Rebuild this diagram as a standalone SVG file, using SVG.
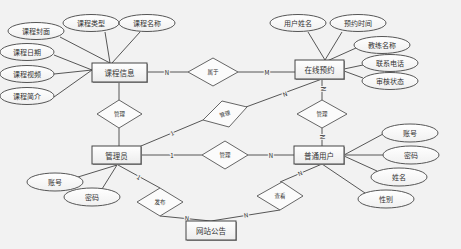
<svg xmlns="http://www.w3.org/2000/svg" width="461" height="249" viewBox="0 0 461 249">
<defs>
<linearGradient id="boxg" x1="0" y1="0" x2="0" y2="1"><stop offset="0" stop-color="#ffffff"/><stop offset="1" stop-color="#ececec"/></linearGradient>
<linearGradient id="elg" x1="0" y1="0" x2="0" y2="1"><stop offset="0" stop-color="#ffffff"/><stop offset="1" stop-color="#f0f0f0"/></linearGradient>
</defs>
<style>
text{font-family:"Noto Sans CJK SC","Liberation Sans",sans-serif;fill:#333;text-anchor:middle;dominant-baseline:central}
.ent rect.b{fill:url(#boxg);stroke:#444;stroke-width:1}
.ent rect.s{fill:#999}
.ent text{font-size:7.5px}
.att ellipse{fill:url(#elg);stroke:#444;stroke-width:0.9}
.att text{font-size:7px}
.rel polygon{fill:#fbfbfb;stroke:#555;stroke-width:0.9}
.rel text{font-size:5.5px}
#connectors line{stroke:#444;stroke-width:0.9}
.card{font-size:6px;fill:#222;stroke:#f2f2f2;stroke-width:2.5;paint-order:stroke}
</style>
<rect width="461" height="249" fill="#f2f2f2"/>
<g id="connectors">
<line x1="60" y1="37" x2="110" y2="63"/>
<line x1="105" y1="32" x2="110" y2="63"/>
<line x1="140" y1="32" x2="112" y2="63"/>
<line x1="54" y1="55" x2="92" y2="70"/>
<line x1="54" y1="74" x2="92" y2="70"/>
<line x1="54" y1="97" x2="92" y2="70"/>
<line x1="147" y1="72" x2="188" y2="72"/>
<line x1="238" y1="72" x2="295" y2="72"/>
<line x1="308" y1="32" x2="325" y2="60"/>
<line x1="342" y1="32" x2="325" y2="60"/>
<line x1="356" y1="48" x2="327" y2="61"/>
<line x1="363" y1="65" x2="344" y2="69"/>
<line x1="363" y1="78" x2="344" y2="71"/>
<line x1="322" y1="79" x2="322" y2="100"/>
<line x1="322" y1="128" x2="322" y2="146"/>
<line x1="322" y1="79" x2="246" y2="107"/>
<line x1="203" y1="120" x2="141" y2="146"/>
<line x1="119" y1="82" x2="119" y2="100"/>
<line x1="119" y1="128" x2="119" y2="146"/>
<line x1="141" y1="155" x2="202" y2="155"/>
<line x1="248" y1="155" x2="294" y2="155"/>
<line x1="78" y1="177" x2="117" y2="165"/>
<line x1="102" y1="189" x2="117" y2="165"/>
<line x1="118" y1="165" x2="160" y2="188"/>
<line x1="160" y1="216" x2="211" y2="221"/>
<line x1="322" y1="164" x2="280" y2="182"/>
<line x1="280" y1="210" x2="211" y2="221"/>
<line x1="383" y1="134" x2="344" y2="155"/>
<line x1="383" y1="155" x2="344" y2="155"/>
<line x1="377" y1="171" x2="344" y2="156"/>
<line x1="365" y1="193" x2="322" y2="164"/>
<text class="card" x="167" y="72">N</text>
<text class="card" x="267" y="72">M</text>
<text class="card" x="285" y="94" transform="rotate(-20 285 94)">N</text>
<text class="card" x="323" y="89" transform="rotate(90 323 89)">N</text>
<text class="card" x="322" y="137" transform="rotate(90 322 137)">N</text>
<text class="card" x="172" y="133" transform="rotate(-23 172 133)">1</text>
<text class="card" x="172" y="155">1</text>
<text class="card" x="271" y="155">N</text>
<text class="card" x="139" y="177" transform="rotate(29 139 177)">1</text>
<text class="card" x="187" y="218" transform="rotate(6 187 218)">N</text>
<text class="card" x="300" y="173" transform="rotate(-23 300 173)">N</text>
<text class="card" x="246" y="215" transform="rotate(-9 246 215)">N</text>
</g>
<g id="e-course" class="ent"><rect class="s" x="93" y="64" width="55" height="19"/><rect class="b" x="92" y="63" width="55" height="19"/><text x="119.5" y="72.5">课程信息</text></g>
<g id="e-booking" class="ent"><rect class="s" x="296" y="61" width="49" height="19"/><rect class="b" x="295" y="60" width="49" height="19"/><text x="319.5" y="69.5">在线预约</text></g>
<g id="e-admin" class="ent"><rect class="s" x="93" y="147" width="49" height="18"/><rect class="b" x="92" y="146" width="49" height="18"/><text x="116.5" y="155">管理员</text></g>
<g id="e-user" class="ent"><rect class="s" x="295" y="147" width="50" height="18"/><rect class="b" x="294" y="146" width="50" height="18"/><text x="319" y="155">普通用户</text></g>
<g id="e-notice" class="ent"><rect class="s" x="187" y="222" width="50" height="19"/><rect class="b" x="186" y="221" width="50" height="19"/><text x="211" y="230.5">网站公告</text></g>
<g id="a-cover" class="att"><ellipse cx="36" cy="31" rx="28" ry="8.5"/><text x="36" y="31">课程封面</text></g>
<g id="a-type" class="att"><ellipse cx="91" cy="23" rx="28" ry="8.5"/><text x="91" y="23">课程类型</text></g>
<g id="a-name" class="att"><ellipse cx="147" cy="23" rx="28" ry="8.5"/><text x="147" y="23">课程名称</text></g>
<g id="a-date" class="att"><ellipse cx="27" cy="52" rx="27" ry="8.5"/><text x="27" y="52">课程日期</text></g>
<g id="a-video" class="att"><ellipse cx="27" cy="74" rx="27" ry="8.5"/><text x="27" y="74">课程视频</text></g>
<g id="a-intro" class="att"><ellipse cx="27" cy="96" rx="27" ry="8.5"/><text x="27" y="96">课程简介</text></g>
<g id="a-uname" class="att"><ellipse cx="298" cy="23" rx="28" ry="8.5"/><text x="298" y="23">用户姓名</text></g>
<g id="a-btime" class="att"><ellipse cx="358" cy="23" rx="28" ry="8.5"/><text x="358" y="23">预约时间</text></g>
<g id="a-coach" class="att"><ellipse cx="382" cy="45" rx="28" ry="8.5"/><text x="382" y="45">教练名称</text></g>
<g id="a-phone" class="att"><ellipse cx="390" cy="63" rx="28" ry="8.5"/><text x="390" y="63">联系电话</text></g>
<g id="a-status" class="att"><ellipse cx="390" cy="81" rx="28" ry="8.5"/><text x="390" y="81">审核状态</text></g>
<g id="a-aacc" class="att"><ellipse cx="55" cy="182" rx="28" ry="9"/><text x="55" y="182">账号</text></g>
<g id="a-apwd" class="att"><ellipse cx="92" cy="197" rx="28" ry="9"/><text x="92" y="197">密码</text></g>
<g id="a-uacc" class="att"><ellipse cx="410" cy="133" rx="28" ry="9"/><text x="410" y="133">账号</text></g>
<g id="a-upwd" class="att"><ellipse cx="411" cy="155" rx="28" ry="9"/><text x="411" y="155">密码</text></g>
<g id="a-uname2" class="att"><ellipse cx="399" cy="177" rx="28" ry="9"/><text x="399" y="177">姓名</text></g>
<g id="a-gender" class="att"><ellipse cx="386" cy="199" rx="28" ry="9"/><text x="386" y="199">性别</text></g>
<g id="r-belong" class="rel"><polygon points="188,72 213,58 238,72 213,86"/><text x="213" y="72">属于</text></g>
<g id="r-manage1" class="rel"><polygon points="97,114 119,100 142,114 119,128"/><text x="119.5" y="114">管理</text></g>
<g id="r-manage2" class="rel"><polygon points="203,120 222,101 247,107 229,127"/><text x="225" y="114" transform="rotate(-18 225 114)">管理</text></g>
<g id="r-manage3" class="rel"><polygon points="202,155 225,141 248,155 225,169"/><text x="225" y="155">管理</text></g>
<g id="r-manage4" class="rel"><polygon points="297,114 322,100 347,114 322,128"/><text x="322" y="114">管理</text></g>
<g id="r-publish" class="rel"><polygon points="137,202 160,188 183,202 160,216"/><text x="160" y="202">发布</text></g>
<g id="r-view" class="rel"><polygon points="257,196 282,182 303,196 280,210"/><text x="280" y="196">查看</text></g>
</svg>
